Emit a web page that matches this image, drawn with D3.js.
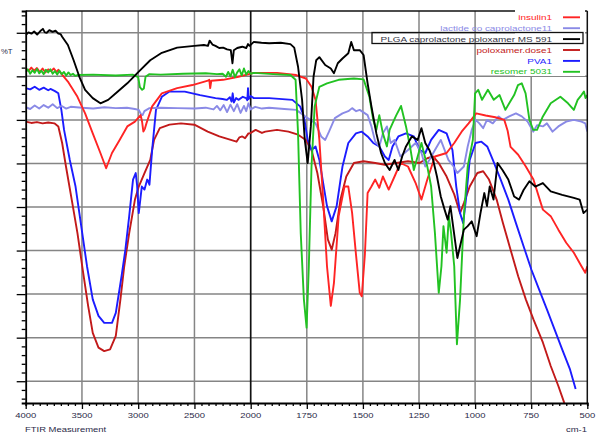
<!DOCTYPE html>
<html><head><meta charset="utf-8">
<script src="https://cdn.jsdelivr.net/npm/d3@7"></script>
<style>body{margin:0;background:#fff}svg{display:block}</style>
</head><body><svg id="c" width="603" height="442"></svg>
<script>
// FTIR overlay: wavenumber (cm-1) vs %T for six samples
const xTicks = [4000, 3500, 3000, 2500, 2000, 1750, 1500, 1250, 1000, 750, 500];
const yGrid = [10, 20, 30, 40, 50, 60, 70, 80, 90];
const seriesNames = ["insulin1", "lactide co caprolactone11", "PLGA caprolactone poloxamer MS 591", "poloxamer.dose1", "PVA1", "resomer 5031"];
const seriesColors = ["#ff2424", "#8a8ae6", "#000000", "#c21a1a", "#1c1cff", "#22c222"];

const insulin = [[4000,81.8],[3975,81.2],[3950,82.0],[3925,81.3],[3900,81.9],[3875,81.0],[3850,81.8],[3825,80.9],[3800,81.6],[3775,81.2],[3750,81.8],[3725,81.0],[3710,81.5],[3680,80.5],[3625,78.8],[3540,75.3],[3472,71.5],[3404,66.9],[3336,62.4],[3285,58.9],[3233,62.4],[3165,65.4],[3097,68.5],[3029,69.6],[2978,71.1],[2965,69.5],[2954,67.3],[2940,68.0],[2927,69.2],[2876,73.1],[2790,76.1],[2654,77.3],[2518,78.0],[2380,79.0],[2368,79.2],[2360,77.3],[2350,79.0],[2245,79.2],[2109,79.9],[1986,80.8],[1883,80.8],[1797,80.3],[1754,79.5],[1729,77.6],[1711,74.6],[1694,65.4],[1677,51.7],[1660,36.4],[1643,27.3],[1629,32.6],[1608,47.9],[1582,54.7],[1565,54.7],[1548,48.6],[1531,39.2],[1514,30.3],[1505,29.5],[1491,39.2],[1479,53.2],[1462,54.7],[1445,56.3],[1427,54.4],[1411,57.0],[1385,54.0],[1359,57.0],[1333,60.1],[1299,59.3],[1265,55.5],[1239,51.7],[1213,56.3],[1179,61.6],[1127,62.4],[1093,64.7],[1060,67.3],[1029,69.2],[995,71.5],[953,71.0],[910,70.6],[870,70.0],[855,67.5],[842,63.8],[808,62.0],[774,59.3],[740,56.3],[698,49.4],[663,47.9],[629,44.8],[594,41.8],[560,39.5],[526,36.4],[509,34.9],[500,36.4]];

const lactide = [[4000,72.9],[3960,72.5],[3920,73.3],[3880,72.6],[3840,73.4],[3800,72.8],[3760,73.6],[3720,72.7],[3680,73.2],[3640,72.6],[3600,73.0],[3500,72.8],[3400,72.6],[3300,72.9],[3200,72.7],[3100,72.8],[3030,72.5],[2995,72.3],[2975,71.3],[2961,71.1],[2945,72.0],[2900,72.7],[2800,72.8],[2650,72.7],[2500,72.6],[2400,72.8],[2330,72.4],[2300,73.2],[2270,72.2],[2240,73.4],[2210,71.8],[2180,73.5],[2150,72.0],[2120,73.6],[2090,71.6],[2060,73.2],[2040,72.0],[2020,73.8],[2000,72.4],[1980,73.0],[1950,72.6],[1918,72.8],[1850,72.5],[1797,72.3],[1746,70.4],[1711,69.2],[1686,66.2],[1668,65.4],[1651,67.3],[1625,70.4],[1591,71.5],[1565,72.0],[1548,72.7],[1530,72.0],[1514,72.3],[1479,71.1],[1462,68.5],[1445,65.0],[1427,63.9],[1411,66.9],[1393,68.5],[1376,64.7],[1359,65.4],[1333,61.6],[1299,63.1],[1265,64.7],[1239,62.4],[1222,59.3],[1204,60.8],[1179,63.1],[1153,65.4],[1136,63.1],[1119,60.8],[1096,59.3],[1079,57.8],[1050,59.3],[1033,63.9],[1015,67.7],[998,70.0],[981,69.2],[964,68.1],[947,70.0],[921,69.2],[895,70.8],[876,70.0],[848,70.8],[818,71.5],[792,70.8],[766,69.6],[741,67.3],[724,68.8],[698,68.5],[680,69.2],[655,67.3],[629,68.5],[594,69.6],[560,70.0],[526,69.6],[509,69.2],[500,67.3]];

const plga = [[4000,89.5],[3975,90.1],[3949,89.8],[3925,90.3],[3898,89.6],[3870,90.4],[3847,90.9],[3830,90.1],[3813,90.0],[3790,90.6],[3761,90.2],[3735,90.5],[3710,89.8],[3690,89.7],[3676,89.1],[3625,87.2],[3574,83.7],[3523,79.9],[3472,76.9],[3404,75.0],[3336,73.8],[3267,74.6],[3199,76.1],[3097,78.4],[2995,81.1],[2893,83.7],[2790,85.4],[2654,86.6],[2501,87.0],[2416,87.2],[2380,87.0],[2365,88.2],[2340,87.3],[2313,87.0],[2280,86.5],[2245,86.6],[2210,86.2],[2177,86.0],[2162,83.0],[2150,86.0],[2120,86.5],[2075,86.8],[2040,86.5],[2024,87.4],[2010,87.0],[1986,87.9],[1952,87.7],[1918,87.6],[1866,87.7],[1823,87.4],[1806,86.6],[1789,82.2],[1771,74.6],[1759,65.4],[1746,60.1],[1732,68.5],[1720,79.9],[1708,83.7],[1694,84.4],[1668,82.6],[1643,81.8],[1629,80.7],[1612,83.0],[1591,84.1],[1565,85.3],[1552,87.9],[1540,86.0],[1514,86.0],[1497,84.9],[1479,78.4],[1462,73.1],[1440,66.9],[1419,62.4],[1402,60.1],[1381,58.5],[1359,60.8],[1342,58.5],[1325,61.6],[1308,63.9],[1282,66.2],[1256,65.4],[1239,68.1],[1222,64.7],[1204,63.1],[1187,60.8],[1170,57.0],[1153,52.4],[1136,49.4],[1122,47.1],[1110,50.2],[1096,44.8],[1079,38.3],[1067,41.0],[1050,44.8],[1033,45.6],[1015,46.7],[993,43.3],[976,48.6],[959,53.2],[947,50.2],[935,54.7],[918,51.7],[900,60.1],[878,58.5],[852,56.3],[826,52.4],[804,51.7],[784,53.9],[758,55.9],[732,54.7],[698,55.5],[663,53.6],[612,52.8],[560,52.1],[534,51.7],[517,48.6],[500,49.4]];

const poloxamer = [[4000,69.6],[3950,69.3],[3900,69.5],[3850,69.2],[3800,69.4],[3745,69.2],[3710,68.5],[3676,64.7],[3642,59.3],[3591,51.7],[3540,44.0],[3489,34.9],[3445,27.3],[3404,21.1],[3353,17.7],[3302,16.9],[3250,17.3],[3199,20.4],[3158,28.8],[3124,36.4],[3080,44.0],[3029,51.7],[2995,54.7],[2944,57.8],[2893,60.8],[2859,65.4],[2808,68.1],[2722,68.9],[2620,69.2],[2501,68.9],[2382,67.3],[2279,66.2],[2177,65.4],[2126,65.0],[2100,66.0],[2075,66.2],[2050,65.8],[2020,66.9],[2007,66.9],[1978,67.7],[1950,67.0],[1935,67.3],[1883,67.7],[1832,67.3],[1789,66.6],[1754,65.4],[1729,63.1],[1703,57.8],[1677,50.2],[1656,42.5],[1639,40.2],[1622,44.0],[1600,51.7],[1574,57.0],[1540,60.1],[1497,60.5],[1445,60.1],[1402,59.7],[1351,60.1],[1299,60.5],[1248,60.1],[1213,61.2],[1187,61.6],[1162,60.1],[1127,57.0],[1093,52.9],[1067,48.6],[1050,50.9],[1024,54.7],[990,57.8],[964,58.2],[938,56.3],[904,51.7],[876,46.3],[842,40.2],[808,34.1],[774,28.8],[740,24.2],[698,18.9],[663,13.5],[629,8.9],[603,5.1],[590,3.5]];

const pva = [[4000,77.3],[3960,77.0],[3920,77.6],[3880,76.9],[3840,77.4],[3800,76.8],[3780,77.1],[3740,76.6],[3710,76.1],[3683,72.3],[3659,67.7],[3608,60.8],[3557,54.7],[3523,48.6],[3489,42.5],[3455,36.4],[3404,28.8],[3353,25.0],[3302,23.4],[3233,23.4],[3199,25.7],[3148,34.1],[3114,40.2],[3080,47.9],[3046,56.3],[3022,57.8],[3010,55.0],[2995,48.6],[2980,52.0],[2968,54.7],[2944,54.0],[2920,56.3],[2910,55.8],[2900,55.1],[2876,63.1],[2842,72.3],[2790,75.3],[2722,76.5],[2586,76.5],[2450,75.7],[2313,75.0],[2250,74.8],[2211,74.6],[2185,75.2],[2170,74.2],[2160,76.1],[2150,74.0],[2130,75.0],[2109,74.6],[2070,75.3],[2041,75.0],[2030,74.5],[2024,77.3],[2018,74.8],[2000,75.5],[1986,75.0],[1918,75.0],[1814,74.6],[1780,73.1],[1763,70.8],[1746,65.4],[1729,63.1],[1711,63.9],[1694,60.8],[1677,55.5],[1660,50.2],[1639,46.7],[1617,50.2],[1591,59.3],[1565,64.7],[1531,66.9],[1505,67.3],[1479,66.2],[1454,64.7],[1427,63.9],[1402,61.6],[1385,60.8],[1368,63.9],[1342,66.2],[1308,66.9],[1273,66.2],[1248,63.1],[1222,62.4],[1196,65.4],[1162,67.7],[1127,66.9],[1101,63.1],[1084,54.7],[1067,48.6],[1053,46.3],[1041,51.7],[1024,60.8],[998,64.7],[972,65.0],[946,63.9],[921,60.8],[886,56.3],[852,51.7],[818,46.3],[784,41.0],[749,35.6],[715,31.1],[680,26.5],[646,21.9],[612,17.3],[577,12.7],[552,8.2]];

const resomer = [[4000,81.0],[3980,81.6],[3960,80.6],[3940,81.4],[3920,80.8],[3900,81.7],[3880,80.7],[3860,81.3],[3840,80.5],[3820,81.5],[3800,80.9],[3780,81.6],[3760,80.6],[3740,81.2],[3720,80.4],[3700,81.3],[3680,80.5],[3660,81.0],[3640,80.2],[3620,80.9],[3600,80.3],[3580,80.6],[3560,80.1],[3540,80.3],[3400,80.4],[3200,80.2],[3050,80.4],[3000,79.8],[2985,77.5],[2965,76.9],[2950,77.2],[2935,79.9],[2900,80.5],[2800,80.4],[2600,80.6],[2400,80.7],[2300,80.5],[2250,80.6],[2220,79.9],[2200,81.0],[2180,80.0],[2160,81.5],[2140,79.8],[2120,80.9],[2100,81.6],[2080,80.2],[2060,81.8],[2040,80.4],[2020,81.2],[2000,80.6],[1986,80.8],[1900,80.5],[1823,80.3],[1800,79.2],[1789,66.9],[1777,44.0],[1763,28.8],[1751,22.3],[1741,36.4],[1729,59.3],[1715,73.1],[1694,77.6],[1660,78.4],[1608,79.2],[1540,79.5],[1497,79.3],[1471,75.3],[1454,70.0],[1440,67.7],[1427,71.1],[1411,66.9],[1393,63.9],[1381,67.7],[1368,69.2],[1351,71.1],[1330,73.2],[1308,68.5],[1290,63.9],[1273,58.5],[1256,61.6],[1239,64.7],[1213,59.3],[1196,54.7],[1179,44.0],[1162,30.3],[1150,36.4],[1141,45.6],[1127,39.5],[1117,47.9],[1107,44.0],[1093,36.4],[1081,18.5],[1067,28.8],[1050,47.9],[1033,59.3],[1010,65.4],[1000,76.1],[986,76.9],[969,74.6],[943,76.9],[917,74.6],[891,75.7],[865,72.3],[848,73.8],[826,75.7],[809,78.0],[792,78.4],[775,76.1],[758,70.0],[741,67.7],[724,67.7],[698,70.8],[663,73.8],[620,75.3],[586,73.8],[560,72.3],[543,74.6],[526,75.7],[515,76.5],[508,75.0],[500,75.7]];

const seriesData = [insulin, lactide, plga, poloxamer, pva, resomer];

const svg = d3.select("#c");
const L = 25.7, R = 587.3, T = 11, B = 403;

// wavenumber axis changes scale at 2000 cm-1
const x = d3.scaleLinear().domain([4000, 2000, 500]).range([L, 250.7, R]);
const y = d3.scaleLinear().domain([5, 95]).range([B, T]);

const grid = svg.append("g");
grid.selectAll("line.h").data(yGrid).join("line")
  .attr("x1", L).attr("x2", R).attr("y1", d => y(d)).attr("y2", d => y(d))
  .attr("stroke", "#858585").attr("stroke-width", 1.5);
grid.selectAll("line.v").data(xTicks.slice(1, -1)).join("line")
  .attr("x1", d => x(d)).attr("x2", d => x(d)).attr("y1", T).attr("y2", B)
  .attr("stroke", d => d === 2000 ? "#111" : "#858585").attr("stroke-width", d => d === 2000 ? 1.7 : 1.5);

// curves
svg.append("clipPath").attr("id", "plot").append("rect")
  .attr("x", L).attr("y", T).attr("width", R - L).attr("height", B - T);
const line = d3.line().x(d => x(d[0])).y(d => y(d[1])).curve(d3.curveLinear);
const curves = svg.append("g").attr("clip-path", "url(#plot)");
const drawOrder = [3, 4, 1, 0, 5, 2];
drawOrder.forEach(i => {
  curves.append("path").datum(seriesData[i]).attr("d", line)
    .attr("fill", "none").attr("stroke", seriesColors[i])
    .attr("stroke-width", 1.9).attr("stroke-linejoin", "round");
});

// frame
svg.append("line").attr("x1", L).attr("x2", R).attr("y1", T).attr("y2", T).attr("stroke", "#111").attr("stroke-width", 1.5);
svg.append("line").attr("x1", R).attr("x2", R).attr("y1", T).attr("y2", B).attr("stroke", "#111").attr("stroke-width", 1.5);

// left axis with minor ticks every 2 units
const yAxis = d3.axisLeft(y).tickValues(d3.range(6, 95, 2)).tickFormat("")
  .tickSizeOuter(0).tickSize(4);
const gy = svg.append("g").attr("transform", `translate(${L},0)`).call(yAxis);
gy.selectAll(".tick line").attr("x2", d => d % 10 === 0 ? -9 : -4).attr("stroke-width", 1.3);
gy.select(".domain").attr("stroke-width", 1.8);

// bottom axis
const xMinor = d3.range(4000, 2000, -62.5).concat(d3.range(2000, 499, -31.25));
const xAxis = d3.axisBottom(x).tickValues(xMinor).tickFormat("").tickSizeOuter(0).tickSize(3);
const gx = svg.append("g").attr("transform", `translate(0,${B})`).call(xAxis);
gx.selectAll(".tick line").attr("stroke-width", 1.3)
  .attr("y2", d => xTicks.includes(d) ? 6 : 3);
gx.select(".domain").attr("stroke-width", 1.8);

// horizontally stretched small text, as the instrument software renders it
function label(g, px, py, str, opts) {
  return g.append("text")
    .attr("transform", `translate(${px},${py}) scale(${opts.sx},1)`)
    .attr("text-anchor", opts.anchor || "start")
    .attr("font-size", opts.size)
    .attr("fill", opts.fill)
    .text(str);
}

const lab = svg.append("g").attr("font-family", "Liberation Sans, Arial, sans-serif");
xTicks.forEach(v => label(lab, x(v), 417.5, v, {sx: 1.35, size: 7, anchor: "middle", fill: "#2a2a48"}));
label(lab, 25, 431.5, "FTIR Measurement", {sx: 1.35, size: 7, fill: "#2a2a48"});
label(lab, 587, 431.5, "cm-1", {sx: 1.35, size: 7, anchor: "end", fill: "#2a2a48"});
label(lab, 1, 54, "%T", {sx: 1.1, size: 7, fill: "#2a2a48"});

// legend
const lg = svg.append("g").attr("font-family", "Liberation Sans, Arial, sans-serif");
lg.append("rect").attr("x", 515).attr("y", 8).attr("width", 70).attr("height", 68).attr("fill", "#fff");
const rowY = i => 17.3 + i * 10.9;
seriesNames.forEach((n, i) => {
  label(lg, 552, rowY(i) + 2.6, n, {sx: 1.42, size: 7, anchor: "end",
    fill: i === 2 ? "#333344" : seriesColors[i]});
  lg.append("line").attr("x1", 563).attr("x2", 580).attr("y1", rowY(i)).attr("y2", rowY(i))
    .attr("stroke", seriesColors[i]).attr("stroke-width", 1.9);
});
lg.append("rect").attr("x", 372).attr("y", 32.5).attr("width", 211).attr("height", 11)
  .attr("fill", "none").attr("stroke", "#111").attr("stroke-width", 1.3);
</script></body></html>
